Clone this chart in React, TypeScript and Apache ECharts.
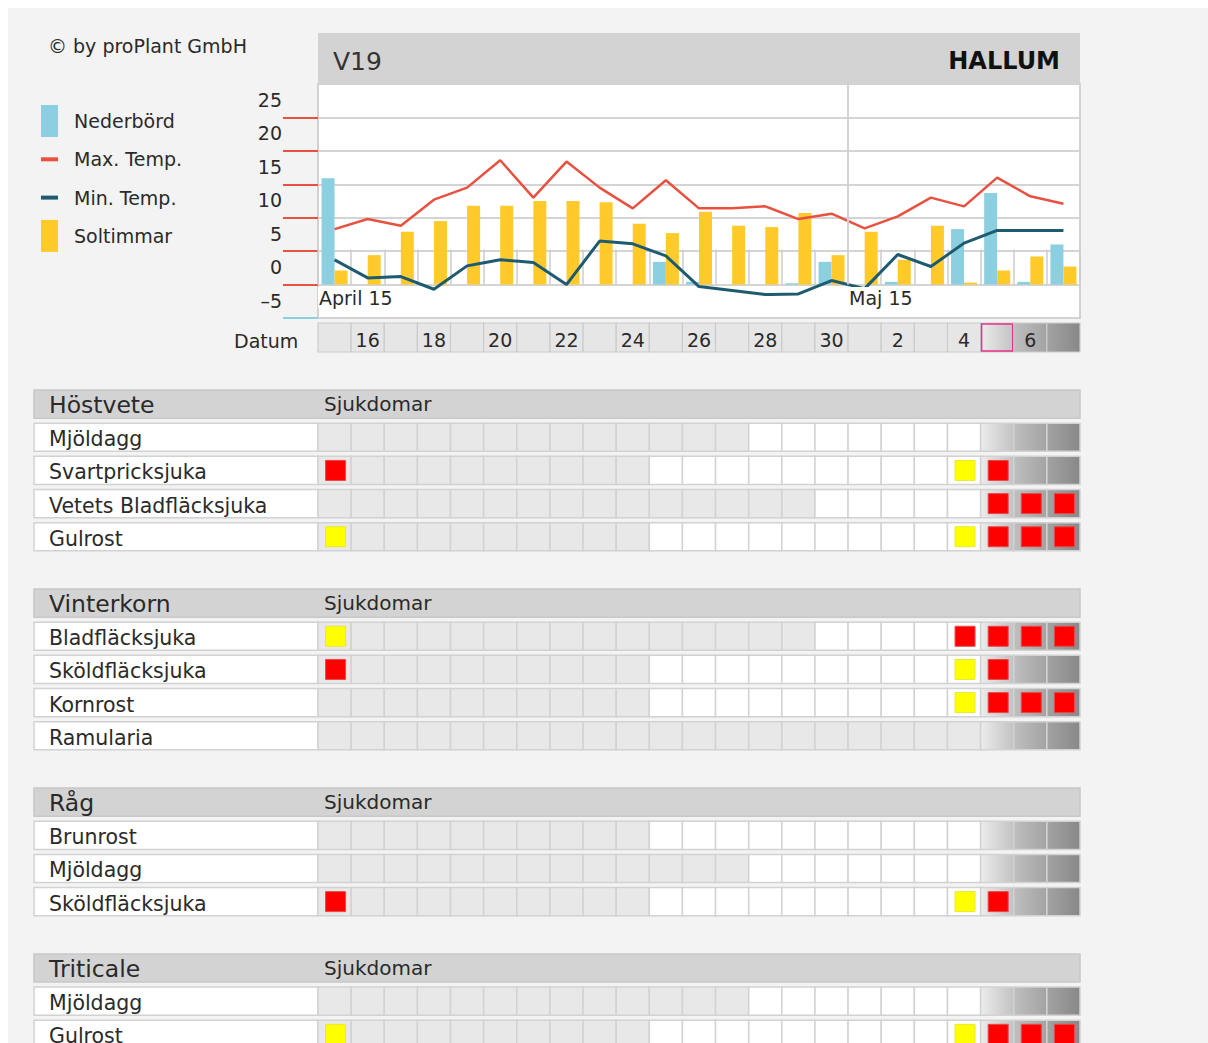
import React, { useEffect, useRef } from 'react';
import * as echarts from 'echarts';

const FONT = 'DejaVu Sans';

// ---- weather data (15 April – 7 May) ----
const dayNums = [15, 16, 17, 18, 19, 20, 21, 22, 23, 24, 25, 26, 27, 28, 29, 30, 1, 2, 3, 4, 5, 6, 7];
const precipitation = [15.9, 0, 0, 0, 0, 0, 0, 0, 0, 0, 3.4, 0.4, 0, 0, 0.2, 3.4, 0, 0.4, 0, 8.3, 13.7, 0.4, 6.0];
const sunshine = [2.1, 4.4, 7.9, 9.5, 11.8, 11.8, 12.5, 12.5, 12.3, 9.1, 7.7, 10.9, 8.8, 8.6, 10.7, 4.4, 7.9, 3.7, 8.8, 0.3, 2.1, 4.2, 2.7];
const maxTemp = [8.3, 9.8, 8.8, 12.7, 14.5, 18.6, 13.0, 18.4, 14.5, 11.4, 15.6, 11.4, 11.4, 11.7, 9.8, 10.6, 8.4, 10.2, 13.0, 11.7, 16.0, 13.2, 12.1];
const minTemp = [3.7, 1.0, 1.2, -0.7, 2.8, 3.7, 3.3, 0.0, 6.5, 6.1, 4.3, -0.3, -0.9, -1.5, -1.4, 0.6, -0.6, 4.5, 2.7, 6.2, 8.1, 8.1, 8.1];
const yLabelValues = [-5, 0, 5, 10, 15, 20, 25];
const yTickValues = [0, 5, 10, 15, 20, 25];
const monthLabels = [{ at: 0, text: 'April 15' }, { at: 16, text: 'Maj 15' }];
const todayIndex = 20;
const forecastStart = 20;

// ---- disease tables ----
const crops = ['Höstvete', 'Vinterkorn', 'Råg', 'Triticale'];
const diseases = [
  ['Mjöldagg', 'Svartpricksjuka', 'Vetets Bladfläcksjuka', 'Gulrost'],
  ['Bladfläcksjuka', 'Sköldfläcksjuka', 'Kornrost', 'Ramularia'],
  ['Brunrost', 'Mjöldagg', 'Sköldfläcksjuka'],
  ['Mjöldagg', 'Gulrost'],
];
// number of leading inactive (grey) days per disease row
const inactiveDays = [
  [13, 10, 15, 10],
  [15, 10, 10, 20],
  [10, 13, 10],
  [13, 10],
];
// warnings: [dayIndex, level]  1 = yellow, 2 = red
const warnings: number[][][][] = [
  [[], [[0, 2], [19, 1], [20, 2]], [[20, 2], [21, 2], [22, 2]], [[0, 1], [19, 1], [20, 2], [21, 2], [22, 2]]],
  [[[0, 1], [19, 2], [20, 2], [21, 2], [22, 2]], [[0, 2], [19, 1], [20, 2]], [[19, 1], [20, 2], [21, 2], [22, 2]], []],
  [[], [], [[0, 2], [19, 1], [20, 2]]],
  [[], [[0, 1], [19, 1], [20, 2], [21, 2], [22, 2]]],
];

type RowInfo = { kind: 'header' | 'disease' | 'gap'; text: string; crop: number; d: number };
const tableRows: RowInfo[] = [];
crops.forEach((c, ci) => {
  if (ci > 0) tableRows.push({ kind: 'gap', text: '', crop: ci, d: -1 });
  tableRows.push({ kind: 'header', text: c, crop: ci, d: -1 });
  diseases[ci].forEach((d, di) => tableRows.push({ kind: 'disease', text: d, crop: ci, d: di }));
});

const cellData: number[][] = [];
tableRows.forEach((row, r) => {
  if (row.kind !== 'disease') return;
  const inactive = inactiveDays[row.crop][row.d];
  const warn = warnings[row.crop][row.d];
  dayNums.forEach((_, i) => {
    const state = i >= forecastStart ? 2 : i < inactive ? 0 : 1;
    const w = warn.find((x) => x[0] === i);
    cellData.push([i, r, state, w ? w[1] : 0]);
  });
});
const labelData = tableRows.map((row, r) => [0, r]).filter((_, r) => tableRows[r].kind !== 'gap');

const shades = [
  ['#ececec', '#c2c2c2'],
  ['#bfbfbf', '#a3a3a3'],
  ['#a3a3a3', '#888888'],
];
function futureFill(i: number) {
  const s = shades[Math.min(2, Math.max(0, i - forecastStart))];
  return new echarts.graphic.LinearGradient(0, 0, 1, 0, [
    { offset: 0, color: s[0] },
    { offset: 1, color: s[1] },
  ]);
}

const days = dayNums.map((d) => String(d));
const RED = '#e8503f';
const DARK = '#1e5a70';
const BLUE = '#8bcfe0';
const YELLOW = '#ffca2a';
const TXT = '#2a2a2a';
const linePath = 'path://M0,0M0,14L17,14L17,18L0,18ZM17,32';

function buildOption(): any {
  return {
    animation: false,
    backgroundColor: '#f3f3f3',
    textStyle: { fontFamily: FONT },
    legend: {
      orient: 'vertical',
      left: 33,
      top: 97,
      padding: 0,
      itemWidth: 17,
      itemHeight: 32,
      itemGap: 6.3,
      selectedMode: false,
      textStyle: { fontSize: 19, color: TXT, fontFamily: FONT, padding: [0, 0, 0, 11] },
      data: [
        { name: 'Nederbörd', icon: 'rect', itemStyle: { color: BLUE, borderWidth: 0 } },
        { name: 'Max. Temp.', icon: linePath, itemStyle: { color: RED, borderWidth: 0 } },
        { name: 'Min. Temp.', icon: linePath, itemStyle: { color: DARK, borderWidth: 0 } },
        { name: 'Soltimmar', icon: 'rect', itemStyle: { color: YELLOW, borderWidth: 0 } },
      ],
    },
    graphic: [
      { type: 'text', x: 40, y: 38, style: { text: '© by proPlant GmbH', fontSize: 19, fill: TXT, fontFamily: FONT, verticalAlign: 'middle' } },
      { type: 'rect', shape: { x: 310, y: 25, width: 762, height: 51 }, style: { fill: '#d3d3d3' } },
      { type: 'text', x: 325, y: 53, style: { text: 'V19', fontSize: 25, fill: '#333', fontFamily: FONT, verticalAlign: 'middle' } },
      { type: 'text', x: 1052, y: 53, style: { text: 'HALLUM', fontSize: 24, fontWeight: 'bold', fill: '#111', fontFamily: FONT, align: 'right', verticalAlign: 'middle' } },
      { type: 'text', x: 226, y: 333, style: { text: 'Datum', fontSize: 19, fill: TXT, fontFamily: FONT, verticalAlign: 'middle' } },
    ],
    grid: [
      { left: 310, top: 76, width: 762, height: 234, show: true, backgroundColor: '#fff', borderColor: '#d2d2d2', borderWidth: 2, containLabel: false, outerBoundsMode: 'none' },
      { left: 310, top: 315, width: 762, height: 29, containLabel: false, outerBoundsMode: 'none' },
      { left: 310, top: 379.5, width: 762, height: 663.4, containLabel: false, outerBoundsMode: 'none' },
    ],
    xAxis: [
      {
        type: 'category', gridIndex: 0, data: days, position: 'bottom', offset: -16, boundaryGap: true,
        axisLine: { show: false },
        axisTick: { show: true, inside: true, length: 35, lineStyle: { color: '#cdcdcd', width: 1.5 } },
        axisLabel: { show: false }, splitLine: { show: false },
      },
      {
        type: 'value', gridIndex: 0, min: 0, max: 23, position: 'bottom', z: 5,
        axisLine: { show: false },
        axisTick: { show: true, inside: true, length: 234, customValues: [16], lineStyle: { color: '#d2d2d2', width: 2 } },
        axisLabel: {
          show: true, inside: true, margin: 10, align: 'left',
          customValues: monthLabels.map((m) => m.at),
          formatter: (v: number) => (monthLabels.find((m) => m.at === v) || { text: '' }).text,
          fontSize: 19, color: TXT, fontFamily: FONT, backgroundColor: '#fff', padding: [1, 4, 1, 1],
        },
        splitLine: { show: false },
      },
      { type: 'category', gridIndex: 1, data: days, show: false },
      { type: 'category', gridIndex: 2, data: days, show: false },
    ],
    yAxis: [
      {
        type: 'value', gridIndex: 0, min: -5, max: 30, interval: 5, position: 'left',
        axisLine: { show: false },
        axisTick: { show: true, length: 35, customValues: yTickValues, lineStyle: { color: RED, width: 2 } },
        axisLabel: {
          customValues: yLabelValues, margin: 36, fontSize: 19, color: TXT, fontFamily: FONT,
          verticalAlign: 'bottom', padding: [0, 0, 8, 0],
          formatter: (v: number) => (v < 0 ? '\u2013' + -v : String(v)),
        },
        splitLine: { show: true, lineStyle: { color: '#d4d4d4', width: 2 } },
      },
      {
        type: 'value', gridIndex: 0, min: -5, max: 30, interval: 5, position: 'left',
        axisLine: { show: false },
        axisTick: { show: true, length: 35, customValues: [-5], lineStyle: { color: BLUE, width: 2 } },
        axisLabel: { show: false }, splitLine: { show: false },
      },
      { type: 'category', gridIndex: 1, data: ['d'], show: false },
      { type: 'category', gridIndex: 2, data: tableRows.map((_, r) => String(r)), inverse: true, show: false },
    ],
    series: [
      { name: 'Nederbörd', type: 'bar', xAxisIndex: 0, yAxisIndex: 0, data: precipitation, barWidth: 13, barGap: '0%', itemStyle: { color: BLUE } },
      { name: 'Soltimmar', type: 'bar', xAxisIndex: 0, yAxisIndex: 0, data: sunshine, barWidth: 13, itemStyle: { color: YELLOW } },
      { name: 'Max. Temp.', type: 'line', xAxisIndex: 0, yAxisIndex: 0, data: maxTemp, symbol: 'none', itemStyle: { color: RED }, lineStyle: { color: RED, width: 2.5 }, z: 4 },
      { name: 'Min. Temp.', type: 'line', xAxisIndex: 0, yAxisIndex: 0, data: minTemp, symbol: 'none', itemStyle: { color: DARK }, lineStyle: { color: DARK, width: 3 }, z: 4 },
      {
        name: 'datum', type: 'custom', xAxisIndex: 2, yAxisIndex: 2,
        data: dayNums.map((d, i) => [i, 0, d]),
        encode: { x: 0, y: 1 },
        renderItem: (params: any, api: any) => {
          const i = api.value(0);
          const d = api.value(2);
          const c = api.coord([i, 0]);
          const w = api.size([1, 1])[0];
          const cs = params.coordSys;
          const x = c[0] - w / 2;
          const children: any[] = [
            { type: 'rect', shape: { x, y: cs.y, width: w, height: cs.height }, style: { fill: i >= forecastStart ? futureFill(i) : '#e6e6e6', stroke: '#cbcbcb', lineWidth: 1.2 } },
          ];
          if (i === todayIndex) {
            children.push({ type: 'rect', shape: { x: x + 1, y: cs.y + 1, width: w - 2, height: cs.height - 2 }, style: { fill: 'none', stroke: '#e8318a', lineWidth: 1.5 } });
          }
          if (d % 2 === 0) {
            children.push({ type: 'text', style: { text: String(d), x: c[0], y: c[1] + 2, align: 'center', verticalAlign: 'middle', fontSize: 19, fill: TXT, fontFamily: FONT } });
          }
          return { type: 'group', children };
        },
      },
      {
        name: 'rowLabels', type: 'custom', xAxisIndex: 3, yAxisIndex: 3,
        data: labelData, encode: { x: 0, y: 1 },
        renderItem: (params: any, api: any) => {
          const r = api.value(1);
          const row = tableRows[r];
          const cs = params.coordSys;
          const c = api.coord([0, r]);
          const h = api.size([1, 1])[1];
          const top = c[1] - h / 2 + 2.5;
          const hh = h - 5;
          const left = 26;
          if (row.kind === 'header') {
            return {
              type: 'group', children: [
                { type: 'rect', shape: { x: left, y: top, width: cs.x + cs.width - left, height: hh }, style: { fill: '#d3d3d3', stroke: '#c8c8c8', lineWidth: 1.5 } },
                { type: 'text', style: { text: row.text, x: 41, y: c[1] + 1, verticalAlign: 'middle', fontSize: 23.5, fill: TXT, fontFamily: FONT } },
                { type: 'text', style: { text: 'Sjukdomar', x: cs.x + 6, y: c[1], verticalAlign: 'middle', fontSize: 20, fill: TXT, fontFamily: FONT } },
              ],
            };
          }
          return {
            type: 'group', children: [
              { type: 'rect', shape: { x: left, y: top, width: cs.x - left, height: hh }, style: { fill: '#fff', stroke: '#d2d2d2', lineWidth: 1.5 } },
              { type: 'text', style: { text: row.text, x: 41, y: c[1] + 2, verticalAlign: 'middle', fontSize: 20.5, fill: TXT, fontFamily: FONT } },
            ],
          };
        },
      },
      {
        name: 'cells', type: 'custom', xAxisIndex: 3, yAxisIndex: 3,
        data: cellData, encode: { x: 0, y: 1 },
        renderItem: (params: any, api: any) => {
          const i = api.value(0);
          const r = api.value(1);
          const st = api.value(2);
          const mk = api.value(3);
          const c = api.coord([i, r]);
          const s = api.size([1, 1]);
          const w = s[0];
          const h = s[1];
          const x = c[0] - w / 2;
          const y = c[1] - h / 2 + 2.5;
          const children: any[] = [
            { type: 'rect', shape: { x, y, width: w, height: h - 5 }, style: { fill: st === 2 ? futureFill(i) : st === 1 ? '#ffffff' : '#e8e8e8', stroke: '#d2d2d2', lineWidth: 1.5 } },
          ];
          if (mk > 0) {
            children.push({ type: 'rect', shape: { x: c[0] - 9, y: c[1] - 10, width: 20, height: 20 }, style: { fill: mk === 2 ? '#ff0000' : '#ffff00', stroke: mk === 2 ? '#e84848' : '#e8e830', lineWidth: 1 } });
          }
          return { type: 'group', children };
        },
      },
    ],
  };
}

export default function App() {
  const ref = useRef<HTMLDivElement>(null);
  useEffect(() => {
    if (!ref.current) return;
    const chart = echarts.init(ref.current, null, { renderer: 'svg' });
    chart.setOption(buildOption());
    return () => chart.dispose();
  }, []);
  return (
    <div style={{ position: 'fixed', left: 8, top: 8, width: 1200, height: 1035, background: '#f3f3f3', overflow: 'hidden' }}>
      <div ref={ref} style={{ width: 1200, height: 1035 }} />
    </div>
  );
}
